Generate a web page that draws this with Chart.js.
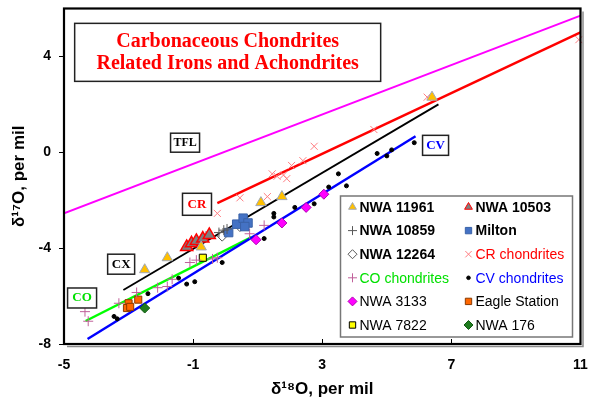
<!DOCTYPE html>
<html>
<head>
<meta charset="utf-8">
<script src="https://cdn.jsdelivr.net/npm/chart.js@4.4.1/dist/chart.umd.min.js"></script>
<style>
  html, body { margin: 0; padding: 0; background: #fff; }
  #wrap { width: 589px; height: 405px; position: relative; }
</style>
</head>
<body>
<div id="wrap"><canvas id="ox-chart"></canvas></div>
<script>
/* ===== DATA ===== */
const xTicks = [-5, -1, 3, 7, 11];
const yTicks = [-8, -4, 0, 4];

// reference lines (end points, per mil)
const tflLine = [[-5, -2.55], [11, 5.7]];
const crLine = [[-0.25, -2.12], [11, 5.0]];
const cxLine = [[-3.16, -5.75], [6.6, 2.0]];
const cvLine = [[-4.27, -7.79], [5.89, 0.67]];
const coLine = [[-4.33, -7.04], [0.81, -3.54]];

// samples: [d18O, d17O]
const nwa11961 = [[-2.5, -4.9], [-1.8, -4.4], [-0.75, -3.95], [1.1, -2.1], [1.75, -1.85], [6.4, 2.3]];
const nwa10503 = [[-1.2, -3.95], [-1.05, -3.8], [-0.9, -3.7], [-0.7, -3.6], [-0.5, -3.45]];
const nwa10859 = [[-0.6, -3.5], [-0.2, -3.35], [-0.05, -3.25], [0.05, -3.2]];
const milton = [[0.1, -3.35], [0.35, -3.0], [0.55, -2.75], [0.7, -2.95], [0.6, -3.1]];
const nwa12264 = [[-0.1, -3.5], [0.45, -3.1]];
const crChondrites = [[-0.25, -2.55], [0.45, -1.9], [1.3, -1.85], [1.45, -0.9], [1.6, -1.0], [1.8, -0.95],
  [1.9, -1.1], [2.05, -0.55], [2.4, -0.35], [2.75, 0.25], [4.6, 0.95], [6.25, 2.3], [10.95, 4.7]];
const coChondrites = [[-4.35, -6.65], [-4.25, -7.05], [-3.3, -6.3], [-2.75, -5.85], [-2.1, -5.65], [-1.8, -5.6],
  [-1.65, -5.3], [-1.1, -4.6], [-0.9, -4.5], [-0.4, -4.45], [-0.25, -4.4], [0.75, -3.4], [1.2, -3.05]];
const cvChondrites = [[-3.45, -6.85], [-3.35, -6.95], [-2.4, -5.9], [-1.45, -5.25], [-1.2, -5.5], [-0.95, -5.4],
  [-0.1, -4.6], [1.2, -3.6], [1.5, -2.55], [1.5, -2.7], [2.15, -2.3], [2.75, -2.15], [3.2, -1.45],
  [3.5, -0.9], [3.75, -1.4], [4.7, -0.05], [5.0, -0.15], [5.15, 0.1], [5.85, 0.4]];
const nwa3133 = [[0.95, -3.65], [1.75, -2.95], [2.5, -2.3], [3.05, -1.75]];
const eagleStation = [[-3.0, -6.3], [-3.05, -6.5], [-2.95, -6.45], [-2.7, -6.15]];
const nwa7822 = [[-0.7, -4.4]];
const nwa176 = [[-2.5, -6.5]];

const titleLines = ["Carbonaceous Chondrites", "Related Irons and Achondrites"];

/* ===== HELPERS ===== */
const SANS = '"Liberation Sans", Arial, sans-serif';
const SERIF = '"Liberation Serif", "Times New Roman", serif';
const toXY = (arr) => arr.map(([x, y]) => ({ x, y }));

function sample(label, data, style) {
  return Object.assign({
    type: "scatter",
    label,
    data: toXY(data),
    pointRadius: 5,
    borderWidth: 1,
    clip: false,
  }, style);
}

function refLine(data, color, width) {
  return {
    type: "line",
    label: "",
    data: toXY(data),
    borderColor: color,
    borderWidth: width,
    pointRadius: 0,
    showLine: true,
    fill: false,
    order: 20,
  };
}

/* ===== DATASETS ===== */
// legend items in order (2 columns, row by row)
const samples = [
  sample("NWA 11961", nwa11961, { pointStyle: "triangle", pointRadius: 6, backgroundColor: "#FFC000", borderColor: "#A0A8B8", legendBold: true, legendColor: "#000" }),
  sample("NWA 10503", nwa10503, { pointStyle: "triangle", pointRadius: 7, backgroundColor: "#7F7F7F", borderColor: "#FF0000", borderWidth: 1.5, legendBold: true, legendColor: "#000" }),
  sample("NWA 10859", nwa10859, { pointStyle: "cross", pointRadius: 5, borderColor: "#595959", legendBold: true, legendColor: "#000" }),
  sample("Milton", milton, { pointStyle: "rect", pointRadius: 6, backgroundColor: "#4472C4", borderColor: "#3A62A8", legendBold: true, legendColor: "#000" }),
  sample("NWA 12264", nwa12264, { pointStyle: "rectRot", pointRadius: 5, backgroundColor: "#FFFFFF", borderColor: "#595959", legendBold: true, legendColor: "#000" }),
  sample("CR chondrites", crChondrites, { pointStyle: "crossRot", pointRadius: 5, borderColor: "#FF7C80", legendColor: "#FF0000" }),
  sample("CO chondrites", coChondrites, { pointStyle: "cross", pointRadius: 5, borderColor: "#C0609A", legendColor: "#00E000" }),
  sample("CV chondrites", cvChondrites, { pointStyle: "circle", pointRadius: 2, backgroundColor: "#000", borderColor: "#000", legendColor: "#0000FF" }),
  sample("NWA 3133", nwa3133, { pointStyle: "rectRot", pointRadius: 5, backgroundColor: "#FF00FF", borderColor: "#B000B0", legendColor: "#000" }),
  sample("Eagle Station", eagleStation, { pointStyle: "rect", pointRadius: 5, backgroundColor: "#FF6600", borderColor: "#8A3A00", legendColor: "#000" }),
  sample("NWA 7822", nwa7822, { pointStyle: "rect", pointRadius: 5, backgroundColor: "#FFFF00", borderColor: "#000", legendColor: "#000" }),
  sample("NWA 176", nwa176, { pointStyle: "rectRot", pointRadius: 5, backgroundColor: "#1E7B1E", borderColor: "#0F5A0F", legendColor: "#000" }),
];

const lines = [
  refLine(tflLine, "#FF00FF", 2),
  refLine(crLine, "#FF0000", 2.5),
  refLine(cxLine, "#000000", 1.8),
  refLine(cvLine, "#0000FF", 2.5),
  refLine(coLine, "#00FF00", 2.5),
];

/* ===== LABEL BOXES (centre in data units, size in px) ===== */
const boxes = [
  { text: titleLines, x: 0.07, y: 4.17, w: 306, h: 58, color: "#FF0000", size: 20 },
  { text: ["TFL"], x: -1.25, y: 0.4, w: 29, h: 19, color: "#000", size: 12 },
  { text: ["CR"], x: -0.88, y: -2.17, w: 29, h: 22, color: "#FF0000", size: 13 },
  { text: ["CX"], x: -3.23, y: -4.67, w: 27, h: 20, color: "#000", size: 13 },
  { text: ["CO"], x: -4.44, y: -6.08, w: 29, h: 20, color: "#00E000", size: 13 },
  { text: ["CV"], x: 6.51, y: 0.29, w: 26, h: 20, color: "#0000FF", size: 13 },
];

/* ===== PLUGINS ===== */
const framePlugin = {
  id: "frame",
  afterDatasetsDraw(chart) {
    const { ctx, chartArea: a, scales } = chart;
    ctx.save();

    // label boxes
    boxes.forEach((b) => {
      const cx = scales.x.getPixelForValue(b.x);
      const cy = scales.y.getPixelForValue(b.y);
      ctx.fillStyle = "#fff";
      ctx.fillRect(cx - b.w / 2, cy - b.h / 2, b.w, b.h);
      ctx.strokeStyle = "#222";
      ctx.lineWidth = 1.5;
      ctx.strokeRect(cx - b.w / 2, cy - b.h / 2, b.w, b.h);
      ctx.fillStyle = b.color;
      ctx.font = `bold ${b.size}px ${SERIF}`;
      ctx.textAlign = "center";
      ctx.textBaseline = "middle";
      const lh = b.size * 1.1;
      b.text.forEach((t, i) => {
        ctx.fillText(t, cx, cy + (i - (b.text.length - 1) / 2) * lh);
      });
    });

    // legend
    const lx = a.right - 240, ly = a.bottom - 148, lw = 232, lh = 141;
    ctx.fillStyle = "#fff";
    ctx.fillRect(lx, ly, lw, lh);
    ctx.strokeStyle = "#777";
    ctx.lineWidth = 1.5;
    ctx.strokeRect(lx, ly, lw, lh);
    ctx.textAlign = "left";
    ctx.textBaseline = "middle";
    chart.data.datasets.forEach((ds) => {
      const i = samples.indexOf(ds);
      if (i < 0) return;
      const row = Math.floor(i / 2), col = i % 2;
      const mx = lx + 12 + col * 116;
      const my = ly + 11 + row * 23.6;
      ctx.fillStyle = ds.backgroundColor || ds.borderColor;
      ctx.strokeStyle = ds.borderColor;
      ctx.lineWidth = 1;
      Chart.helpers.drawPoint(ctx, {
        pointStyle: ds.pointStyle,
        radius: ds.pointStyle === "circle" ? 1.8 : 4.5,
        borderWidth: 1,
        rotation: 0,
      }, mx, my);
      ctx.fillStyle = ds.legendColor;
      ctx.font = `${ds.legendBold ? "bold " : ""}14px ${SANS}`;
      ctx.fillText(ds.label, mx + 7, my + 1);
    });

    // inward x ticks
    ctx.strokeStyle = "#000";
    ctx.lineWidth = 1;
    xTicks.slice(1, -1).forEach((v) => {
      const px = Math.round(scales.x.getPixelForValue(v)) + 0.5;
      ctx.beginPath();
      ctx.moveTo(px, a.bottom);
      ctx.lineTo(px, a.bottom - 5);
      ctx.stroke();
    });

    // plot frame with shadow
    ctx.strokeStyle = "#8C8C8C";
    ctx.lineWidth = 1.5;
    ctx.beginPath();
    ctx.moveTo(a.right + 2.5, a.top + 3);
    ctx.lineTo(a.right + 2.5, a.bottom + 2.5);
    ctx.lineTo(a.left + 3, a.bottom + 2.5);
    ctx.stroke();
    ctx.strokeStyle = "#000";
    ctx.lineWidth = 2.2;
    ctx.strokeRect(a.left, a.top, a.right - a.left, a.bottom - a.top);
    ctx.restore();
  },
};

/* ===== CHART ===== */
const tickFont = { family: SANS, size: 14, weight: "bold" };
const titleFont = { family: SANS, size: 17, weight: "bold" };

new Chart(document.getElementById("ox-chart"), {
  type: "scatter",
  data: { datasets: [...samples, ...lines] },
  options: {
    responsive: true,
    maintainAspectRatio: false,
    animation: false,
    layout: { padding: { top: 8, right: 8, left: 0, bottom: 0 } },
    plugins: {
      legend: { display: false },
      tooltip: { enabled: false },
    },
    scales: {
      x: {
        type: "linear",
        min: -5,
        max: 11,
        afterBuildTicks: (s) => { s.ticks = xTicks.map((v) => ({ value: v })); },
        afterFit: (s) => { s.height = 61; s.paddingLeft = 0; s.paddingRight = 0; },
        ticks: { font: tickFont, color: "#000", padding: 13 },
        grid: { drawOnChartArea: false, drawTicks: false },
        border: { display: false },
        title: { display: true, text: "δ¹⁸O, per mil", font: titleFont, color: "#000", padding: { top: 0, bottom: 5 } },
      },
      y: {
        type: "linear",
        min: -8,
        max: 6,
        afterBuildTicks: (s) => { s.ticks = yTicks.map((v) => ({ value: v })); },
        afterFit: (s) => { s.width = 64; s.paddingTop = 0; s.paddingBottom = 0; },
        ticks: { font: tickFont, color: "#000", padding: 8 },
        grid: { drawOnChartArea: false, drawTicks: true, tickLength: 5, color: "#000" },
        border: { display: false },
        title: { display: true, text: "δ¹⁷O, per mil", font: titleFont, color: "#000", padding: { top: 9, bottom: 0 } },
      },
    },
  },
  plugins: [framePlugin],
});
</script>
</body>
</html>
